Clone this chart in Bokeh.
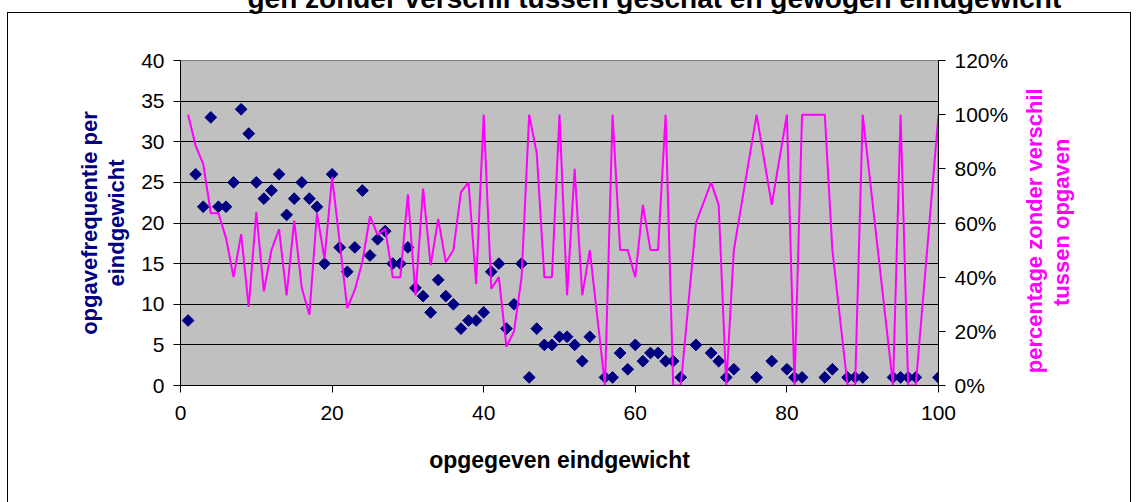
import math
from bokeh.plotting import figure
from bokeh.models import (LinearAxis, Range1d, FixedTicker, SingleIntervalTicker,
                          NumeralTickFormatter)
from bokeh.embed import file_html
from bokeh.resources import INLINE

# ---------------- data ----------------
freq_x = [1, 2, 3, 4, 5, 6, 7, 8, 9, 10, 11, 12, 13, 14, 15, 16, 17, 18, 19, 20,
          21, 22, 23, 24, 25, 26, 27, 28, 29, 30, 31, 32, 33, 34, 35, 36, 37, 38, 39, 40,
          41, 42, 43, 44, 45, 46, 47, 48, 49, 50, 51, 52, 53, 54, 56, 57, 58, 59, 60,
          61, 62, 63, 64, 65, 66, 68, 70, 71, 72, 73, 76, 78, 80,
          81, 82, 85, 86, 88, 89, 90, 94, 95, 96, 97, 100]
freq_y = [8, 26, 22, 33, 22, 22, 25, 34, 31, 25, 23, 24, 26, 21, 23, 25, 23, 22, 15, 26,
          17, 14, 17, 24, 16, 18, 19, 15, 15, 17, 12, 11, 9, 13, 11, 10, 7, 8, 8, 9,
          14, 15, 7, 10, 15, 1, 7, 5, 5, 6, 6, 5, 3, 6, 1, 1, 4, 2, 5,
          3, 4, 4, 3, 3, 1, 5, 4, 3, 1, 2, 1, 3, 2,
          1, 1, 1, 2, 1, 1, 1, 1, 1, 1, 1, 1]

pct_x = [1, 2, 3, 4, 5, 6, 7, 8, 9, 10, 11, 12, 13, 14, 15, 16, 17, 18, 19, 20,
         21, 22, 23, 24, 25, 26, 27, 28, 29, 30, 31, 32, 33, 34, 35, 36, 37, 38, 39, 40,
         41, 42, 43, 44, 45, 46, 47, 48, 49, 50, 51, 52, 53, 54, 56, 57, 58, 59, 60,
         61, 62, 63, 64, 65, 66, 68, 70, 71, 72, 73, 76, 78, 80,
         81, 82, 85, 86, 88, 89, 90, 94, 95, 96, 97, 100, 100]
pct_y = [100, 88.5, 81.8, 63.6, 63.6, 54.5, 40, 55.9, 29, 64, 34.8, 50, 57.7, 33.3, 60.9, 36, 26.1, 63.6, 46.7, 76.9,
         52.9, 28.6, 35.3, 45.8, 62.5, 55.6, 57.9, 40, 40, 70.6, 33.3, 72.7, 44.4, 61.5, 45.5, 50, 71.4, 75, 37.5, 100,
         35.7, 40, 14.3, 20, 40, 100, 85.7, 40, 40, 100, 33.3, 80, 33.3, 50, 0, 100, 50, 50, 40,
         66.7, 50, 50, 100, 0, 0, 60, 75, 66.7, 0, 50, 100, 66.7, 100,
         0, 100, 100, 50, 0, 0, 100, 0, 100, 0, 0, 100, 60]

x_ticks = [0, 20, 40, 60, 80, 100]
pct_ticks = [0, 0.2, 0.4, 0.6, 0.8, 1.0, 1.2]

title_text = "gen zonder verschil tussen geschat en gewogen eindgewicht"
x_title = "opgegeven eindgewicht"
left_title = ["opgavefrequentie per", "eindgewicht"]
right_title = ["percentage zonder verschil", "tussen opgaven"]

NAVY = "#000080"
MAGENTA = "#FF00FF"
FONT = "Liberation Sans"
NBSP = "\u00a0"

# ---------------- figure ----------------
T = 80                      # part of the canvas hidden above the window
W, H = 1138, 502 + T
p = figure(width=W, height=H, x_range=Range1d(0, 100), y_range=Range1d(0, 40),
           output_backend="svg", toolbar_location=None,
           min_border_left=180, min_border_right=W - 938,
           min_border_top=60 + T, min_border_bottom=H - (385 + T),
           background_fill_color="#C0C0C0", border_fill_alpha=0)
p.margin = (-T, 0, 0, 0)
border_css = ("linear-gradient(#000,#000) 7px {t}px / 1px 800px no-repeat, "
              "linear-gradient(#000,#000) 7px {t}px / 1124px 1px no-repeat, "
              "linear-gradient(#000,#000) 1130px {t}px / 1px 800px no-repeat, #ffffff").format(t=12 + T)
p.styles = {"background": border_css}
p.outline_line_color = "#808080"
p.outline_line_width = 1

# chart title (only its lower part shows, as in the reference)
p.title.text = title_text
p.title.align = "left"
p.title.offset = 67
p.title.text_font = FONT
p.title.text_font_size = "28px"
p.title.text_font_style = "bold"
p.title.text_color = "black"
p.title.standoff = 94

p.extra_y_ranges = {"pct": Range1d(0, 1.2)}

# axes
p.xaxis.ticker = FixedTicker(ticks=x_ticks)
p.yaxis.ticker = SingleIntervalTicker(interval=5, num_minor_ticks=0)

r_axis = LinearAxis(y_range_name="pct", ticker=FixedTicker(ticks=pct_ticks),
                    formatter=NumeralTickFormatter(format="0%"))
p.add_layout(r_axis, "right")

for ax in (p.xaxis[0], p.yaxis[0], r_axis):
    ax.major_label_text_font = FONT
    ax.major_label_text_font_size = "21px"
    ax.major_label_text_color = "black"
    ax.axis_line_color = "black"
    ax.major_tick_line_color = "black"
    ax.minor_tick_line_color = None
    ax.major_tick_in = 0
    ax.major_tick_out = 7
    ax.axis_label_text_font = FONT
    ax.axis_label_text_font_size = "22px"
    ax.axis_label_text_font_style = "bold"
    ax.axis_label_text_line_height = 1.08

p.xaxis.major_label_standoff = 13
p.yaxis.major_label_standoff = 9
r_axis.major_label_standoff = 9

p.xaxis.axis_label = x_title
p.xaxis.axis_label_text_color = "black"
p.xaxis.axis_label_text_font_size = "23px"
p.xaxis.axis_label_standoff = 24

p.yaxis.axis_label = "\n".join(left_title)
p.yaxis.axis_label_text_color = NAVY
p.yaxis.axis_label_standoff = 9

# right title reads bottom-to-top; lines are started from the axis bottom,
# so pad them with no-break spaces to centre them like the reference
r_axis.axis_label = NBSP * 2 + right_title[0] + "\n" + NBSP * 13 + right_title[1]
r_axis.axis_label_text_color = MAGENTA
r_axis.axis_label_text_align = "center"
r_axis.axis_label_standoff = 37
props = r_axis.properties()
if "axis_label_orientation" in props:
    r_axis.axis_label_orientation = math.pi / 2
if "axis_label_align" in props:
    r_axis.axis_label_align = "start"

# grid
p.xgrid.grid_line_color = None
p.ygrid.grid_line_color = "black"
p.ygrid.grid_line_width = 1

# series
p.scatter(freq_x, freq_y, marker="square", angle=math.pi / 4, size=8.3,
          fill_color=NAVY, line_color=NAVY)
p.line(pct_x, [v / 100.0 for v in pct_y], y_range_name="pct",
       line_color=MAGENTA, line_width=2)

open("out.html", "w").write(file_html(p, INLINE))
